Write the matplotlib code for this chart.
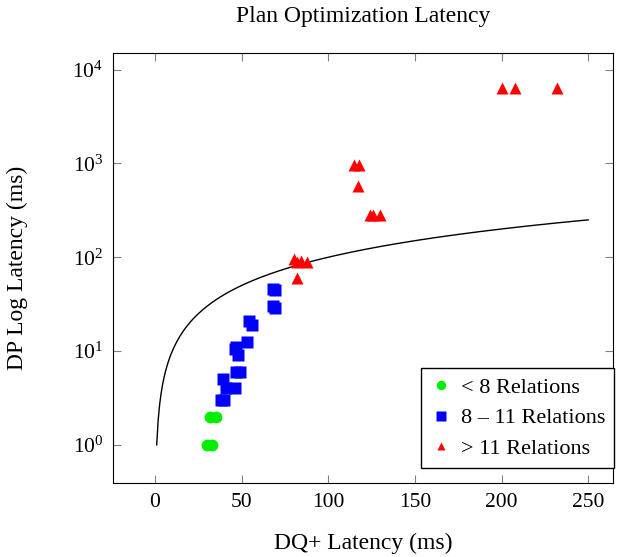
import numpy as np
import matplotlib.pyplot as plt

plt.rcParams['font.family'] = ['Liberation Serif', 'DejaVu Serif']
plt.rcParams['mathtext.fontset'] = 'custom'
plt.rcParams['mathtext.rm'] = 'Liberation Serif'

# < 8 relations
small_x = [30, 33, 32, 35]
small_y = [1, 1, 2, 2]
# 8 - 11 relations
mid_x = [38, 40, 39, 41, 46, 47, 49, 46, 48, 47, 53, 54, 56, 68, 69, 68, 69]
mid_y = [3, 3, 5, 4, 4, 6, 6, 10.5, 9, 11, 12.5, 21, 19, 46, 45, 30, 29]
# > 11 relations
big_x = [200, 208, 232, 115, 118, 117, 124, 126, 130, 80, 82, 84, 88, 82]
big_y = [6400, 6400, 6400, 950, 950, 580, 280, 280, 280, 95, 90, 92, 88, 60]

# reference line y = x
line_x = np.linspace(1, 250, 300)
line_y = line_x

fig = plt.figure(figsize=(6.28, 5.57), dpi=100)
ax = fig.add_axes([0.180, 0.133, 0.796, 0.772])

ax.plot(line_x, line_y, color="black", lw=1)
ax.plot(small_x, small_y, "o", color="#00ee00", markersize=8.5, mec="none", label="< 8 Relations")
ax.plot(mid_x, mid_y, "s", color="blue", markersize=8.5, mec="none", label="8 – 11 Relations")
ax.plot(big_x, big_y, "^", color="red", markersize=8, mec="none", label="> 11 Relations")

ax.set_yscale("log")
ax.set_xlim(-24.2, 264.3)
ax.set_ylim(10 ** -0.405, 10 ** 4.177)
ax.set_xticks([0, 50, 100, 150, 200, 250])
ax.set_yticks([1, 10, 100, 1000, 10000])
ax.minorticks_off()
ax.tick_params(direction="in", top=True, right=True, length=6, color="0.5", labelsize=15.5, pad=7)

ax.set_title("Plan Optimization Latency", fontsize=17, pad=22)
ax.set_xlabel("DQ+ Latency (ms)", fontsize=17, labelpad=15)
ax.set_ylabel("DP Log Latency (ms)", fontsize=17, labelpad=32)

leg = ax.legend(loc="lower right", bbox_to_anchor=(1.003, 0.035), borderaxespad=0, fontsize=16,
                fancybox=False, edgecolor="black", framealpha=1, handletextpad=0.4,
                handlelength=1.0, labelspacing=0.45, markerscale=0.8)
leg.get_frame().set_linewidth(1)

plt.savefig("out.png")
